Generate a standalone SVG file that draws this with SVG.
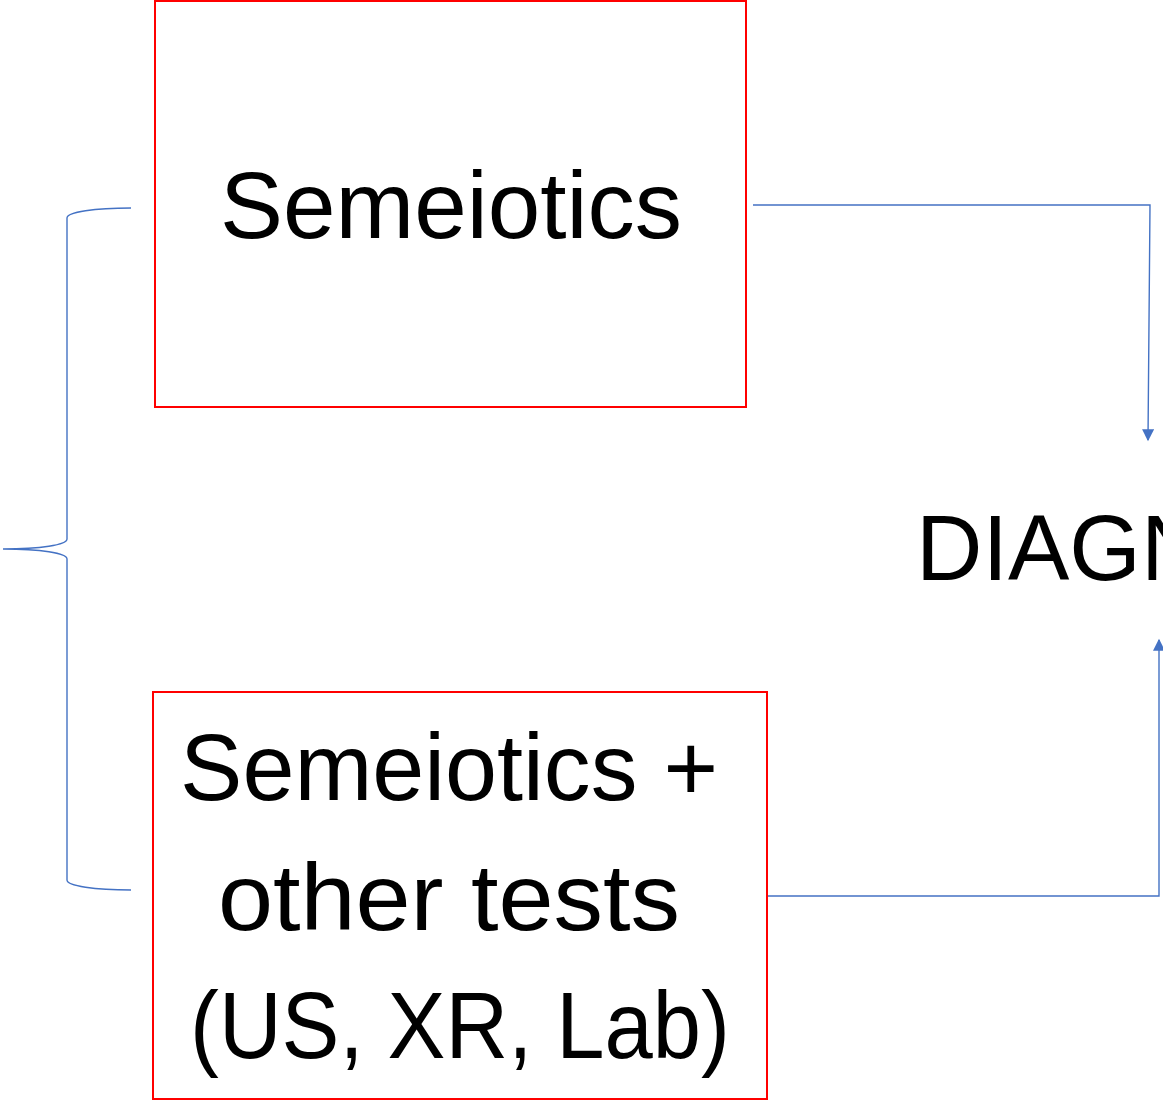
<svg xmlns="http://www.w3.org/2000/svg" width="1163" height="1102" viewBox="0 0 1163 1102">
<style>
.box{fill:#fff;stroke:#ff0000;stroke-width:2}
.lbl{font-family:"Liberation Sans",Arial,sans-serif;font-size:95px;fill:#000}
.conn{fill:none;stroke:#4472c4;stroke-width:1.4}
</style>
<defs>
<marker id="arr" viewBox="0 0 10 10" refX="9" refY="5" markerWidth="14" markerHeight="12" markerUnits="userSpaceOnUse" orient="auto">
<path d="M0,0 L10,5 L0,10 z" fill="#4472c4"/>
</marker>
</defs>
<g id="node-semeiotics">
<rect class="box" x="155" y="1" width="591" height="406"/>
<text class="lbl" x="220" y="238" textLength="462" lengthAdjust="spacingAndGlyphs">Semeiotics</text>
</g>
<g id="node-semeiotics-tests">
<rect class="box" x="153" y="692" width="614" height="407"/>
<text class="lbl" x="180" y="800" textLength="538" lengthAdjust="spacingAndGlyphs">Semeiotics +</text>
<text class="lbl" x="218" y="930" textLength="462" lengthAdjust="spacingAndGlyphs">other tests</text>
<text class="lbl" x="190" y="1058" textLength="540" lengthAdjust="spacingAndGlyphs">(US, XR, Lab)</text>
</g>
<g id="node-diagnosis">
<text x="916" y="580" style="font-family:'Liberation Sans',Arial,sans-serif;font-size:92px;fill:#000">DIAGN</text>
</g>
<g id="connectors">
<path class="conn" d="M753,205 L1150,205 L1148,440" marker-end="url(#arr)"/>
<path class="conn" d="M768,896 L1159,896 L1159,640" marker-end="url(#arr)"/>
<path class="conn" d="M131,208 C95,208 67,212 67,218 L67,539 C67,545 40,549 3,549 C40,549 67,553 67,559 L67,880 C67,886 95,890 131,890"/>
</g>
</svg>
